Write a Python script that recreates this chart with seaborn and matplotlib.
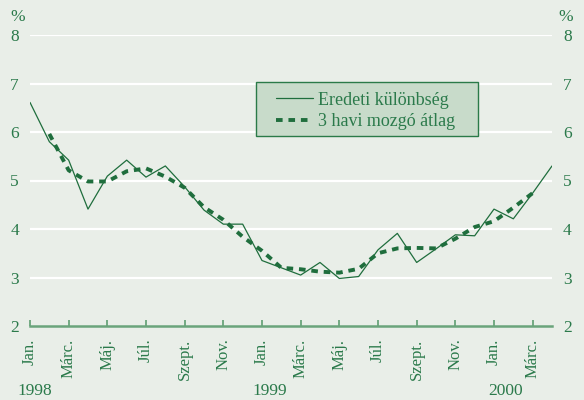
import matplotlib
matplotlib.use("Agg")
import matplotlib.pyplot as plt
from matplotlib.patches import Rectangle
import pandas as pd
import seaborn as sns

# Data, month index 0 = 1998 Jan.
honap = list(range(28))
eredeti = [6.61, 5.80, 5.42, 4.41, 5.09, 5.42, 5.07, 5.30, 4.87, 4.39,
           4.10, 4.10, 3.35, 3.20, 3.05, 3.31, 2.98, 3.02, 3.57, 3.91,
           3.31, 3.59, 3.88, 3.86, 4.41, 4.21, 4.74, 5.30]
atlag_honap = list(range(1, 27))
atlag = [5.96, 5.21, 4.98, 4.98, 5.19, 5.25, 5.08, 4.85, 4.45, 4.19,
         3.84, 3.55, 3.20, 3.17, 3.12, 3.10, 3.18, 3.50, 3.60, 3.61,
         3.60, 3.80, 4.04, 4.16, 4.44, 4.74]
tick_pos = list(range(0, 28, 2))
tick_labels = ['Jan.', 'Márc.', 'Máj.', 'Júl.', 'Szept.', 'Nov.',
               'Jan.', 'Márc.', 'Máj.', 'Júl.', 'Szept.', 'Nov.',
               'Jan.', 'Márc.']
years = ['1998', '1999', '2000']
year_pos = [0.25, 12.4, 24.6]

bg = '#e9eee8'
green = '#1f6e3d'
text_green = '#2b7a4b'
axis_green = '#6aa47b'

sns.set_theme(style='white')
plt.rcParams['font.family'] = ['Liberation Serif', 'DejaVu Serif']

df1 = pd.DataFrame({'honap': honap, 'ertek': eredeti})
df2 = pd.DataFrame({'honap': atlag_honap, 'ertek': atlag})

fig = plt.figure(figsize=(5.84, 4.0), dpi=100, facecolor=bg)
ax = fig.add_axes([30 / 584, 1 - 326 / 400, 522 / 584, 291 / 400])
ax.set_facecolor(bg)

for y in range(3, 9):
    ax.axhline(y, color='white', lw=1.6, zorder=1)

sns.lineplot(data=df1, x='honap', y='ertek', ax=ax, color=green, lw=0.9,
             label='Eredeti különbség', zorder=3)
sns.lineplot(data=df2, x='honap', y='ertek', ax=ax, color=green, lw=2.8,
             label='3 havi mozgó átlag', zorder=3)
ax.lines[-1].set_dashes((1.7, 1.5))

ax.set_xlim(0, 27)
ax.set_ylim(2, 8)
ax.set_xlabel('')
ax.set_ylabel('')

for s in ['top', 'right', 'left']:
    ax.spines[s].set_visible(False)
ax.spines['bottom'].set_color(axis_green)
ax.spines['bottom'].set_linewidth(1.8)

ax.set_xticks(tick_pos)
ax.set_xticklabels(tick_labels, rotation=90, fontsize=12, color=text_green, va='top')
ax.tick_params(axis='x', bottom=True, direction='in', length=4.5, width=1.3,
               color=axis_green, pad=9)
ax.set_yticks(range(2, 9))
ax.tick_params(axis='y', left=False, right=False, length=0, labelsize=12.5,
               labelcolor=text_green, labelleft=True, labelright=True, pad=8)

fig.text(18 / 584, 1 - 17 / 400, '%', ha='center', va='center', fontsize=12.5, color=text_green)
fig.text(566 / 584, 1 - 17 / 400, '%', ha='center', va='center', fontsize=12.5, color=text_green)

trans = matplotlib.transforms.blended_transform_factory(ax.transData, fig.transFigure)
for p, t in zip(year_pos, years):
    ax.text(p, 1 - 391 / 400, t, transform=trans, ha='center', va='center',
            fontsize=12.5, color=text_green)

# legend box drawn separately so its padding matches
box = Rectangle((0.433, 0.653), 0.425, 0.185, transform=ax.transAxes,
                facecolor='#c8dbca', edgecolor='#2a7a48', lw=1.0, zorder=4)
ax.add_patch(box)
leg = ax.legend(loc='upper left', bbox_to_anchor=(0.471, 0.805), frameon=False,
                fontsize=13, handlelength=2.05, handletextpad=0.3,
                borderpad=0, labelspacing=0.25, borderaxespad=0)
leg.set_zorder(5)
for t in leg.get_texts():
    t.set_color(text_green)

fig.savefig('out.png', dpi=100, facecolor=bg)
